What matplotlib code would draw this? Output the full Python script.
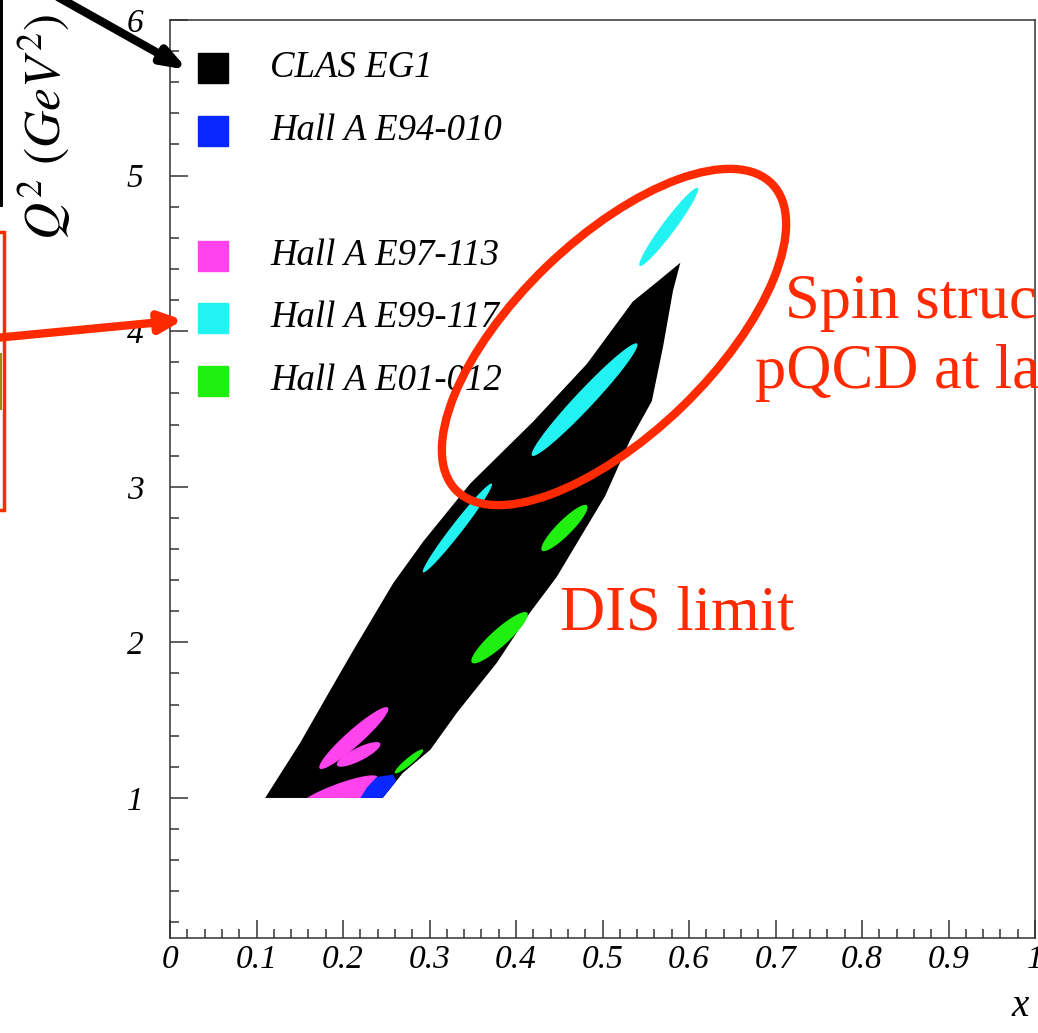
import numpy as np
import matplotlib
matplotlib.use("Agg")
import matplotlib.pyplot as plt
from matplotlib.patches import Polygon, Ellipse, Rectangle
from matplotlib.ticker import MultipleLocator, FixedLocator
from matplotlib.transforms import IdentityTransform

matplotlib.rcParams["mathtext.fontset"] = "stix"
SERIF = "Liberation Serif"

# ---- data (x, Q^2 in GeV^2) ----
# CLAS EG1 coverage: left edge bottom->top, then right edge top->bottom
clas_x = [0.110, 0.150, 0.185, 0.212, 0.258, 0.293, 0.347, 0.420, 0.482, 0.535, 0.566, 0.590,
          0.5815, 0.570, 0.557, 0.532, 0.503, 0.447, 0.416, 0.378, 0.332, 0.301, 0.269, 0.246]
clas_q2 = [1.00, 1.35, 1.69, 1.95, 2.38, 2.65, 3.02, 3.42, 3.79, 4.19, 4.33, 4.44,
           4.26, 3.90, 3.55, 3.30, 2.94, 2.42, 2.19, 1.87, 1.55, 1.31, 1.16, 1.00]

# Hall A E94-010 (blue)
e94_x = [0.220, 0.246, 0.262, 0.258, 0.239, 0.228]
e94_q2 = [1.00, 1.00, 1.10, 1.15, 1.135, 1.07]

# elongated regions: start x, start Q2, end x, end Q2, thickness (px)
e97_x0 = [0.173, 0.193, 0.150, 0.190]
e97_q0 = [1.19, 1.21, 0.95, 0.96]
e97_x1 = [0.252, 0.243, 0.240, 0.243]
e97_q1 = [1.58, 1.35, 1.135, 1.10]
e97_w = [16, 13, 15, 13]

e99_x0 = [0.543, 0.4185, 0.2925]
e99_q0 = [4.42, 3.20, 2.45]
e99_x1 = [0.610, 0.540, 0.372]
e99_q1 = [4.92, 3.92, 3.02]
e99_w = [13, 18, 11]

e01_x0 = [0.430, 0.349, 0.260]
e01_q0 = [2.59, 1.87, 1.16]
e01_x1 = [0.482, 0.413, 0.2925]
e01_q1 = [2.88, 2.19, 1.31]
e01_w = [15, 17, 7]

legend_labels = ["CLAS EG1", "Hall A E94-010", "Hall A E97-113", "Hall A E99-117", "Hall A E01-012"]
legend_rows = [0, 1, 3, 4, 5]
C_CLAS, C_E94, C_E97, C_E99, C_E01 = "black", "#0828ff", "#ff44ee", "#22f2f2", "#20f010"
legend_colors = [C_CLAS, C_E94, C_E97, C_E99, C_E01]

x_ticks = [0, 0.1, 0.2, 0.3, 0.4, 0.5, 0.6, 0.7, 0.8, 0.9, 1.0]
x_tick_labels = ["0", "0.1", "0.2", "0.3", "0.4", "0.5", "0.6", "0.7", "0.8", "0.9", "1"]
y_ticks = [1, 2, 3, 4, 5, 6]
y_tick_labels = ["1", "2", "3", "4", "5", "6"]

RED = "#ff2a00"

W, H = 1038, 1033
fig = plt.figure(figsize=(W / 100, H / 100), dpi=100)
ax = fig.add_axes([170 / W, (H - 938) / H, 865 / W, 918 / H])
ax.set_xlim(0, 1)
ax.set_ylim(0.1, 6)


def spindle(x0, y0, x1, y1, w, n=80):
    # ellipse between two data points, thickness in pixels (built in display space)
    p0 = ax.transData.transform((x0, y0))
    p1 = ax.transData.transform((x1, y1))
    c = (p0 + p1) / 2
    d = p1 - p0
    a = np.hypot(*d) / 2
    u = d / (2 * a)
    nrm = np.array([-u[1], u[0]])
    t = np.linspace(0, 2 * np.pi, n)
    pts = c + np.outer(a * np.cos(t), u) + np.outer(w / 2 * np.sin(t), nrm)
    return ax.transData.inverted().transform(pts)


clas = Polygon(np.column_stack([clas_x, clas_q2]), closed=True, fc=C_CLAS, ec="none", zorder=2)
ax.add_patch(clas)

for i in range(len(e97_x0)):
    p = Polygon(spindle(e97_x0[i], e97_q0[i], e97_x1[i], e97_q1[i], e97_w[i]),
                fc=C_E97, ec="none", zorder=3)
    ax.add_patch(p)
    p.set_clip_path(clas)

p = Polygon(np.column_stack([e94_x, e94_q2]), fc=C_E94, ec="none", zorder=3)
ax.add_patch(p)
p.set_clip_path(clas)

for i in range(len(e99_x0)):
    ax.add_patch(Polygon(spindle(e99_x0[i], e99_q0[i], e99_x1[i], e99_q1[i], e99_w[i]),
                         fc=C_E99, ec="none", zorder=3))
for i in range(len(e01_x0)):
    ax.add_patch(Polygon(spindle(e01_x0[i], e01_q0[i], e01_x1[i], e01_q1[i], e01_w[i]),
                         fc=C_E01, ec="none", zorder=3))

# axes style (ROOT-like)
ax.xaxis.set_major_locator(FixedLocator(x_ticks))
ax.set_xticklabels(x_tick_labels)
ax.yaxis.set_major_locator(FixedLocator(y_ticks))
ax.set_yticklabels(y_tick_labels)
ax.xaxis.set_minor_locator(MultipleLocator(0.02))
ax.yaxis.set_minor_locator(MultipleLocator(0.2))
ax.tick_params(which="both", direction="in", top=False, right=False, width=1.1, color="#333333")
ax.tick_params(which="major", length=13)
ax.tick_params(which="minor", length=6.5)
ax.tick_params(axis="x", pad=5)
ax.tick_params(axis="y", pad=19)
for lab in ax.get_xticklabels() + ax.get_yticklabels():
    lab.set_fontfamily(SERIF)
    lab.set_fontstyle("italic")
    lab.set_fontsize(24)
for s in ax.spines.values():
    s.set_linewidth(1.1)
    s.set_color("#333333")

# legend drawn row by row
for lab, col, row in zip(legend_labels, legend_colors, legend_rows):
    yy = 0.9477 - row * 0.0681
    ax.plot([0.0498], [yy], marker="s", ms=21.5, color=col, mec=col,
            transform=ax.transAxes, clip_on=False, zorder=5)
    ax.text(0.1159, yy, lab, transform=ax.transAxes, ha="left", va="center",
            fontsize=26.5, family=SERIF, style="italic", zorder=5)

# axis titles
fig.text(44 / W, 1 - 127 / H, r"$Q^2\ (GeV^2)$", rotation=90, ha="center", va="center",
         fontsize=37)
fig.text(1020 / W, (H - 1006) / H, "x", ha="center", va="center", fontsize=28,
         family=SERIF, style="italic")

# slide annotations
ax.add_patch(Ellipse((614, H - 337), 440, 195, angle=44, fill=False, ec=RED, lw=6,
                     transform=IdentityTransform(), clip_on=False, zorder=6))
fig.text(785 / W, (H - 318) / H, "Spin struc", color=RED, fontsize=45, family=SERIF, va="baseline")
fig.text(755 / W, (H - 388) / H, "pQCD at la", color=RED, fontsize=45, family=SERIF, va="baseline")
fig.text(560 / W, (H - 630) / H, "DIS limit", color=RED, fontsize=45, family=SERIF, va="baseline")

ax.annotate("", xy=(188, H - 70), xytext=(58, H + 3), xycoords="figure pixels",
            textcoords="figure pixels",
            arrowprops=dict(arrowstyle="-|>,head_length=14,head_width=5", mutation_scale=1,
                            lw=6, color="black", shrinkA=0, shrinkB=0), annotation_clip=False)
ax.annotate("", xy=(183, H - 320), xytext=(-5, H - 338), xycoords="figure pixels",
            textcoords="figure pixels",
            arrowprops=dict(arrowstyle="-|>,head_length=13,head_width=6", mutation_scale=1,
                            lw=6, color=RED, shrinkA=0, shrinkB=0), annotation_clip=False)

fig.add_artist(Rectangle((-20, H - 510), 24, 278, fill=False, ec=RED, lw=2.5,
                         transform=IdentityTransform()))
fig.add_artist(Rectangle((0, H - 410), 2, 57, fc="#9a8a10", ec="none",
                         transform=IdentityTransform()))
fig.add_artist(Rectangle((0, H - 207), 3, 207, fc="black", ec="none",
                         transform=IdentityTransform()))

fig.savefig("out.png", dpi=100, facecolor="white")
